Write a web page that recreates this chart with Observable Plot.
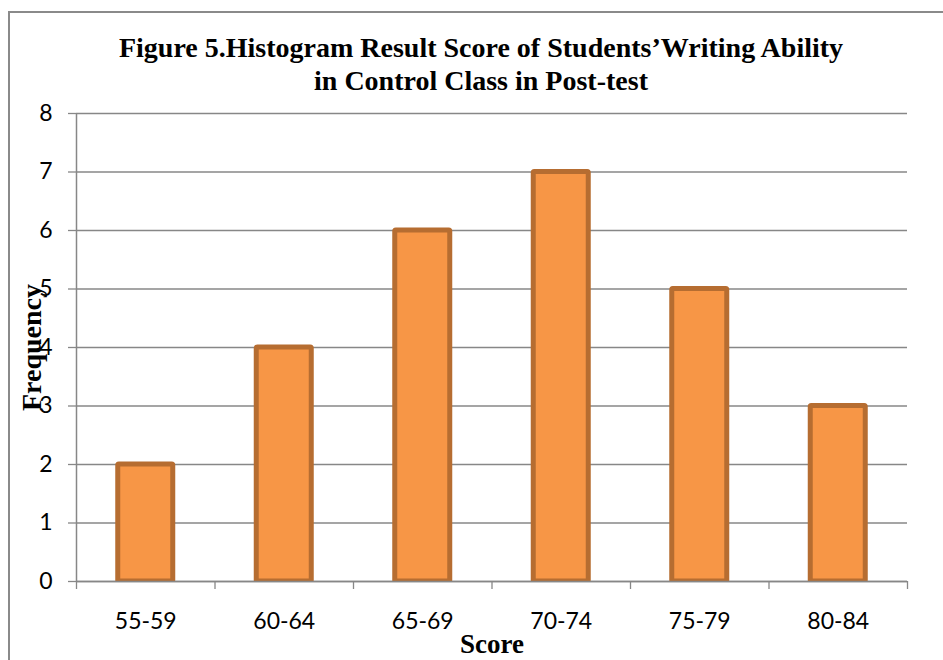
<!DOCTYPE html>
<html><head><meta charset="utf-8">
<script src="https://cdn.jsdelivr.net/npm/d3@7"></script>
<script src="https://cdn.jsdelivr.net/npm/@observablehq/plot@0.6"></script>
<style>
body{margin:0;background:#fff}
#wrap{position:relative;width:943px;height:660px;overflow:hidden;background:#fff}
#border{position:absolute;left:8px;top:11px;width:1200px;height:1200px;border-left:2px solid #8a8a8a;border-top:2px solid #8a8a8a}
#title{position:absolute;left:0;width:962px;top:31px;text-align:center;font:bold 28px "Liberation Serif","Times New Roman",serif;line-height:33px;color:#000}
#chart{position:absolute;left:0;top:0}
</style>
</head><body>
<div id="wrap"><div id="border"></div><div id="title">Figure 5.Histogram Result Score of Students’Writing Ability<br>in Control Class in Post-test</div><div id="chart"></div></div>
<script>
const categories = ["55-59","60-64","65-69","70-74","75-79","80-84"];
const frequencies = [2,4,6,7,5,3];
const yTicks = [0,1,2,3,4,5,6,7,8];
const xLabel = "Score";
const yLabel = "Frequency";
const data = categories.map((c,i)=>({score:c, index:i, frequency:frequencies[i]}));
const gray = "#878787";
const serif = "'Liberation Serif','Times New Roman',serif";
const chart = Plot.plot({
  width:943, height:660,
  marginLeft:76, marginRight:36, marginTop:113, marginBottom:79,
  style:{fontFamily:"Lato,'Open Sans',sans-serif", fontSize:"23px", color:"#000", background:"transparent", overflow:"visible"},
  x:{domain:[0, categories.length]},
  y:{domain:[0,8]},
  marks:[
    Plot.gridY(yTicks,{stroke:gray, strokeOpacity:1, strokeWidth:1.3}),
    Plot.rectY(data,{x1:"index", x2:d=>d.index+1, y:"frequency", fill:"#F79646", stroke:"#B66D31", strokeWidth:5, insetLeft:41.75, insetRight:41.75, rx:1, clip:true}),
    Plot.ruleY([0],{stroke:gray, strokeWidth:1.5}),
    Plot.ruleX([0],{stroke:gray, strokeWidth:1.5}),
    Plot.axisY(yTicks,{tickSize:8, tickPadding:16, tickFormat:d3.format("d"), stroke:gray, strokeWidth:1.3, label:null, fontSize:23}),
    Plot.axisX(d3.range(categories.length+1),{tickSize:8, tickFormat:()=>"", stroke:gray, strokeWidth:1.3, label:null}),
    Plot.axisX(data.map(d=>d.index+0.5),{tickSize:0, tickPadding:31, tickFormat:v=>categories[Math.round(v-0.5)], label:null, fontSize:23}),
    Plot.text([yLabel],{frameAnchor:"left", textAnchor:"middle", lineAnchor:"middle", rotate:-90, dx:-44, fontFamily:serif, fontWeight:"bold", fontSize:28, fill:"#000"}),
    Plot.text([xLabel],{frameAnchor:"bottom", textAnchor:"middle", lineAnchor:"middle", dy:63, fontFamily:serif, fontWeight:"bold", fontSize:27, fill:"#000"})
  ]
});
document.getElementById("chart").appendChild(chart);
</script>
</body></html>
